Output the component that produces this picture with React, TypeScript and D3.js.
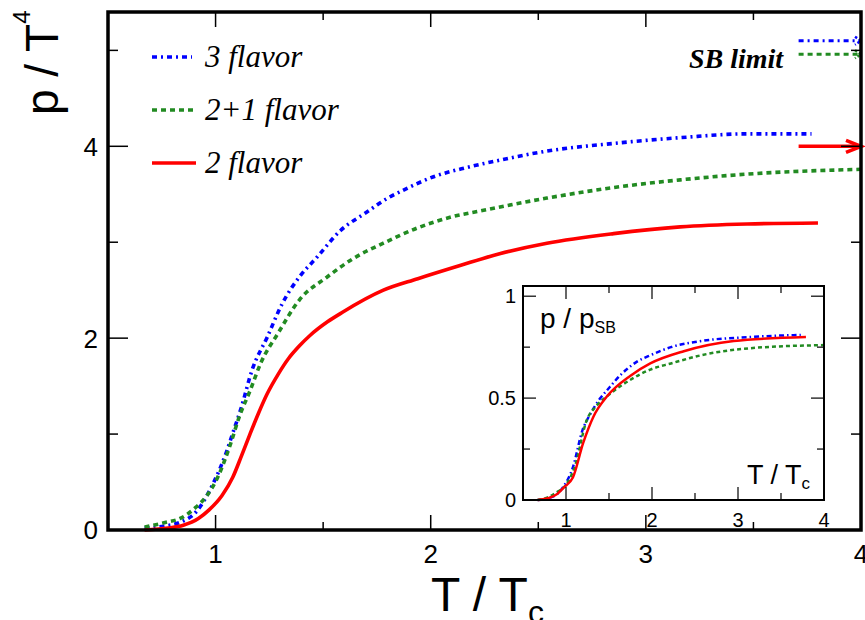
import React from "react";
import * as d3 from "d3";

// ---------- data ----------
const t3 = [0.67, 0.76, 0.835, 0.91, 0.99, 1.05, 1.08, 1.12, 1.17, 1.24, 1.31, 1.39, 1.47, 1.58, 1.7, 1.8, 1.87, 2.01, 2.17, 2.31, 2.54, 2.85, 3.16, 3.47, 3.77];
const p3 = [0.02, 0.04, 0.08, 0.19, 0.49, 0.81, 1.01, 1.28, 1.67, 2.01, 2.36, 2.64, 2.84, 3.12, 3.31, 3.46, 3.54, 3.68, 3.78, 3.85, 3.95, 4.03, 4.09, 4.13, 4.13];

const t21 = [0.67, 0.77, 0.835, 0.905, 0.96, 1.01, 1.07, 1.11, 1.16, 1.21, 1.29, 1.39, 1.52, 1.64, 1.78, 1.94, 2.09, 2.24, 2.54, 2.85, 3.16, 3.47, 4.0];
const p21 = [0.03, 0.08, 0.12, 0.23, 0.36, 0.55, 0.9, 1.18, 1.45, 1.74, 2.05, 2.4, 2.64, 2.83, 2.99, 3.15, 3.26, 3.33, 3.46, 3.57, 3.65, 3.71, 3.76];

const t2 = [0.67, 0.78, 0.85, 0.92, 0.97, 1.03, 1.08, 1.12, 1.16, 1.2, 1.24, 1.29, 1.34, 1.39, 1.44, 1.52, 1.59, 1.78, 1.94, 2.14, 2.32, 2.54, 2.85, 3.16, 3.47, 3.8];
const p2 = [0.0, 0.02, 0.05, 0.12, 0.21, 0.36, 0.55, 0.77, 1.0, 1.22, 1.42, 1.62, 1.79, 1.92, 2.03, 2.17, 2.27, 2.5, 2.62, 2.76, 2.88, 2.99, 3.09, 3.16, 3.19, 3.2];

// inset: p / p_SB
const it3 = [0.67, 0.8, 0.9, 0.97, 1.08, 1.19, 1.28, 1.4, 1.48, 1.65, 1.83, 1.98, 2.22, 2.57, 3.15, 3.73];
const ip3 = [0.0, 0.01, 0.03, 0.065, 0.16, 0.34, 0.42, 0.5, 0.54, 0.62, 0.68, 0.71, 0.75, 0.78, 0.8, 0.81];
const it21 = [0.67, 0.8, 0.9, 0.97, 1.1, 1.24, 1.35, 1.48, 1.75, 1.98, 2.22, 2.57, 3.15, 4.0];
const ip21 = [0.0, 0.015, 0.04, 0.06, 0.16, 0.39, 0.46, 0.51, 0.59, 0.64, 0.67, 0.71, 0.745, 0.76];
const it2 = [0.67, 0.8, 0.9, 0.97, 1.08, 1.2, 1.32, 1.48, 1.75, 1.98, 2.37, 2.95, 3.79];
const ip2 = [0.0, 0.01, 0.03, 0.06, 0.11, 0.28, 0.41, 0.51, 0.61, 0.67, 0.73, 0.78, 0.8];

const seriesNames = ["3 flavor", "2+1 flavor", "2 flavor"];
const sbLimits = [5.1, 4.96, 4.0];
const sbArrowFrom = 3.71;
const sbArrowTo = 4.0;

const xTicksMain = [1, 1.5, 2, 2.5, 3, 3.5];
const xLabelsMain = [1, 2, 3, 4];
const yTicksMain = [1, 2, 3, 4, 5];
const yLabelsMain = [0, 2, 4];
const xTicksInset = [1, 1.5, 2, 2.5, 3, 3.5];
const xLabelsInset = [1, 2, 3, 4];
const yTicksInset = [0.25, 0.5, 0.75, 1];
const yLabelsInset = ["0", "0.5", "1"];

// ---------- styles ----------
const BLUE = "#0000ff";
const GREEN = "#228b22";
const RED = "#ff0000";
const styles = [
  { color: BLUE, dash: "5,4,2,4", idash: "5,3,1.5,3" },
  { color: GREEN, dash: "5,4", idash: "4,3" },
  { color: RED, dash: null as string | null, idash: null as string | null },
];

const SANS = "'Liberation Sans', Arial, Helvetica, sans-serif";
const SERIF = "'Liberation Serif', 'Times New Roman', serif";

export default function App() {
  const W = 865, H = 620;
  const x = d3.scaleLinear().domain([0.5, 4]).range([108, 861]);
  const y = d3.scaleLinear().domain([0, 5.4]).range([530, 12]);
  const ix = d3.scaleLinear().domain([0.5, 4]).range([523, 824]);
  const iy = d3.scaleLinear().domain([0, 1.05]).range([500, 286]);

  const mk = (xs: d3.ScaleLinear<number, number>, ys: d3.ScaleLinear<number, number>) =>
    d3.line<[number, number]>().x((d) => xs(d[0])).y((d) => ys(d[1])).curve(d3.curveMonotoneX);
  const lineMain = mk(x, y);
  const lineInset = mk(ix, iy);
  const zip = (a: number[], b: number[]) => a.map((v, i) => [v, b[i]] as [number, number]);

  const mainData = [zip(t3, p3), zip(t21, p21), zip(t2, p2)];
  const insetData = [zip(it3, ip3), zip(it21, ip21), zip(it2, ip2)];

  const [x0, x1] = x.range();
  const [y0, y1] = y.range();
  const [ix0, ix1] = ix.range();
  const [iy0, iy1] = iy.range();

  return (
    <svg width={W} height={H} style={{ position: "absolute", left: 0, top: 0, background: "#fff" }}>
      {/* main curves */}
      {mainData.map((d, i) => (
        <path key={"m" + i} d={lineMain(d) || ""} fill="none" stroke={styles[i].color} strokeWidth={3.6}
          strokeDasharray={styles[i].dash || undefined} />
      ))}

      {/* SB limit arrows */}
      {sbLimits.map((v, i) => {
        const xa = x(sbArrowFrom), xb = x(sbArrowTo), yy = y(v);
        const big = i === 2;
        const hl = big ? 15 : 6, hw = big ? 6 : 4;
        return (
          <g key={"sb" + i}>
            <line x1={xa} x2={xb} y1={yy} y2={yy} stroke={styles[i].color} strokeWidth={big ? 3.6 : 3}
              strokeDasharray={styles[i].dash || undefined} />
            <path d={`M${xb - hl},${yy - hw}L${xb},${yy}L${xb - hl},${yy + hw}`} fill="none"
              stroke={styles[i].color} strokeWidth={big ? 3.6 : 2.5} strokeDasharray={big ? undefined : "2.5,2"} />
          </g>
        );
      })}
      <text x={689} y={68} fontFamily={SERIF} fontStyle="italic" fontWeight="bold" fontSize={28}>SB limit</text>

      {/* legend */}
      {seriesNames.map((n, i) => (
        <g key={"lg" + i}>
          <line x1={152} x2={192 + i * 2} y1={57 + i * 53} y2={57 + i * 53} stroke={styles[i].color}
            strokeWidth={3.6} strokeDasharray={styles[i].dash || undefined} />
          <text x={205} y={67 + i * 53} fontFamily={SERIF} fontStyle="italic" fontSize={31}>{n}</text>
        </g>
      ))}

      {/* main frame ticks */}
      {xTicksMain.map((t) => {
        const len = Number.isInteger(t) ? 15 : 8;
        return (
          <g key={"xt" + t} stroke="#000" strokeWidth={1.5}>
            <line x1={x(t)} x2={x(t)} y1={y0} y2={y0 - len} />
            <line x1={x(t)} x2={x(t)} y1={y1} y2={y1 + len} />
          </g>
        );
      })}
      {yTicksMain.map((t) => {
        const len = t % 2 === 0 ? 20 : 10;
        return (
          <g key={"yt" + t} stroke="#000" strokeWidth={1.5}>
            <line x1={x0} x2={x0 + len} y1={y(t)} y2={y(t)} />
            <line x1={x1} x2={x1 - len} y1={y(t)} y2={y(t)} />
          </g>
        );
      })}
      <rect x={x0} y={y1} width={x1 - x0} height={y0 - y1} fill="none" stroke="#000" strokeWidth={3.5} />

      {xLabelsMain.map((t) => (
        <text key={"xl" + t} x={x(t)} y={563} textAnchor="middle" fontFamily={SANS} fontSize={26}>{t}</text>
      ))}
      {yLabelsMain.map((t) => (
        <text key={"yl" + t} x={98} y={y(t)} dy="0.36em" textAnchor="end" fontFamily={SANS} fontSize={26}>{t}</text>
      ))}

      {/* axis titles */}
      <text x={431} y={611} fontFamily={SANS} fontSize={48}>
        T / T<tspan fontSize={32} dy={12}>c</tspan>
      </text>
      <text transform="translate(58,115) rotate(-90)" fontFamily={SANS} fontSize={46}>
        p / T<tspan fontSize={24} dy={-28}>4</tspan>
      </text>

      {/* inset */}
      <rect x={ix0} y={iy1} width={ix1 - ix0} height={iy0 - iy1} fill="#fff" stroke="none" />
      {insetData.map((d, i) => (
        <path key={"i" + i} d={lineInset(d) || ""} fill="none" stroke={styles[i].color} strokeWidth={2.5}
          strokeDasharray={styles[i].idash || undefined} />
      ))}
      {xTicksInset.map((t) => {
        const len = Number.isInteger(t) ? 13 : 7;
        return (
          <g key={"ixt" + t} stroke="#000" strokeWidth={1.2}>
            <line x1={ix(t)} x2={ix(t)} y1={iy0} y2={iy0 - len} />
            <line x1={ix(t)} x2={ix(t)} y1={iy1} y2={iy1 + len} />
          </g>
        );
      })}
      {yTicksInset.map((t) => {
        const len = t === 0.5 || t === 1 ? 13 : 7;
        return (
          <g key={"iyt" + t} stroke="#000" strokeWidth={1.2}>
            <line x1={ix0} x2={ix0 + len} y1={iy(t)} y2={iy(t)} />
            <line x1={ix1} x2={ix1 - len} y1={iy(t)} y2={iy(t)} />
          </g>
        );
      })}
      <rect x={ix0} y={iy1} width={ix1 - ix0} height={iy0 - iy1} fill="none" stroke="#000" strokeWidth={2} />
      {xLabelsInset.map((t) => (
        <text key={"ixl" + t} x={ix(t)} y={527} textAnchor="middle" fontFamily={SANS} fontSize={20}>{t}</text>
      ))}
      {yLabelsInset.map((t) => (
        <text key={"iyl" + t} x={516} y={iy(+t)} dy="0.36em" textAnchor="end" fontFamily={SANS} fontSize={20}>{t}</text>
      ))}
      <text x={540} y={328} fontFamily={SANS} fontSize={28}>
        p / p<tspan fontSize={16} dy={5}>SB</tspan>
      </text>
      <text x={747} y={484} fontFamily={SANS} fontSize={27}>
        T / T<tspan fontSize={17} dy={5}>c</tspan>
      </text>
    </svg>
  );
}
